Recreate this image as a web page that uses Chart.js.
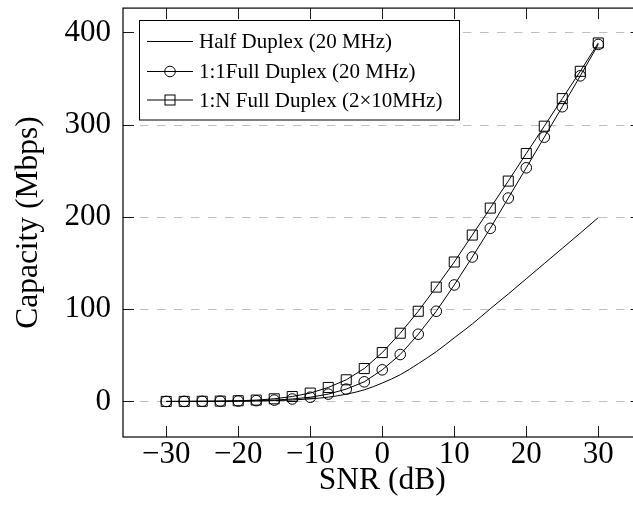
<!DOCTYPE html>
<html>
<head>
<meta charset="utf-8">
<script src="https://cdn.jsdelivr.net/npm/chart.js@4/dist/chart.umd.min.js"></script>
<style>
  html, body { margin: 0; padding: 0; background: #fff; overflow: hidden; width: 633px; height: 519px; }
  #wrap { width: 660px; height: 519px; }
</style>
</head>
<body>
<div id="wrap"><canvas id="chart" width="660" height="519"></canvas></div>
<script>
// SNR sample points (dB)
const snrDb = [-30, -27.5, -25, -22.5, -20, -17.5, -15, -12.5, -10, -7.5, -5, -2.5,
               0, 2.5, 5, 7.5, 10, 12.5, 15, 17.5, 20, 22.5, 25, 27.5, 30];

// Capacity (Mbps)
const halfDuplex = [0.03, 0.05, 0.09, 0.16, 0.29, 0.51, 0.9, 1.6, 2.8, 4.7, 7.9, 12.6,
                    20, 29, 41, 54, 69, 84, 100.5, 116.5, 133, 149.5, 166, 182.5, 199.3];
const fullDuplex11 = [0.05, 0.1, 0.2, 0.3, 0.5, 0.9, 1.5, 2.7, 4.6, 8, 13.4, 21.3,
                      34.3, 50.9, 72.9, 97.8, 126.3, 156.6, 187.7, 220.5, 253.3, 286.5, 319.5, 353, 387];
const fullDuplex1N = [0.05, 0.1, 0.2, 0.4, 0.8, 1.5, 2.9, 5.4, 9.1, 15.2, 23.5, 35.7,
                      53, 74, 97.8, 124, 151.2, 180.4, 209.6, 238.9, 268.8, 298.4, 328.3, 357.9, 388.6];

const seriesNames = ['Half Duplex (20 MHz)', '1:1Full Duplex (20 MHz)', '1:N Full Duplex (2\u00d710MHz)'];

// Axis ticks
const xTicks = [-30, -20, -10, 0, 10, 20, 30];
const yTicks = [0, 100, 200, 300, 400];

const SERIF = "'Liberation Serif', 'Times New Roman', serif";
const fmt = v => (v < 0 ? '\u2212' + Math.abs(v) : String(v));
const pts = ys => snrDb.map((x, i) => ({ x, y: ys[i] }));
const noPad = s => { s.paddingTop = 0; s.paddingBottom = 0; s.paddingLeft = 0; s.paddingRight = 0; };

// Box axis, inward ticks, dashed y grid and the legend
const framePlugin = {
  id: 'frame',
  beforeDatasetsDraw(chart) {
    const { ctx, chartArea: a, scales: { y } } = chart;
    ctx.save();
    ctx.strokeStyle = '#bfbfbf';
    ctx.lineWidth = 1;
    ctx.setLineDash([8.5, 8.5]);
    yTicks.forEach(v => {
      const py = Math.round(y.getPixelForValue(v)) + 0.5;
      ctx.beginPath(); ctx.moveTo(a.left, py); ctx.lineTo(a.right, py); ctx.stroke();
    });
    ctx.restore();
  },
  afterDatasetsDraw(chart) {
    const { ctx, chartArea: a, scales: { x, y } } = chart;
    ctx.save();
    ctx.strokeStyle = '#000';
    ctx.lineWidth = 0.9;
    const tl = 11;
    xTicks.forEach(v => {
      const px = Math.round(x.getPixelForValue(v)) + 0.5;
      ctx.beginPath(); ctx.moveTo(px, a.bottom); ctx.lineTo(px, a.bottom - tl); ctx.stroke();
      ctx.beginPath(); ctx.moveTo(px, a.top); ctx.lineTo(px, a.top + tl); ctx.stroke();
    });
    yTicks.forEach(v => {
      const py = Math.round(y.getPixelForValue(v)) + 0.5;
      ctx.beginPath(); ctx.moveTo(a.left, py); ctx.lineTo(a.left + tl, py); ctx.stroke();
      ctx.beginPath(); ctx.moveTo(a.right, py); ctx.lineTo(a.right - tl, py); ctx.stroke();
    });
    ctx.lineWidth = 1.2;
    ctx.strokeRect(a.left, a.top, a.right - a.left, a.bottom - a.top);

    // legend
    const bx = 139.5, by = 20.5, bw = 320, bh = 99.5;
    ctx.fillStyle = '#fff';
    ctx.fillRect(bx, by, bw, bh);
    ctx.lineWidth = 1;
    ctx.strokeRect(bx, by, bw, bh);
    const rows = [41.5, 71.5, 100];
    const styles = [null, 'circle', 'rect'];
    ctx.font = '21px ' + SERIF;
    ctx.textBaseline = 'middle';
    ctx.textAlign = 'left';
    rows.forEach((ry, i) => {
      ctx.strokeStyle = '#000';
      ctx.lineWidth = 1;
      ctx.beginPath(); ctx.moveTo(147, ry); ctx.lineTo(193, ry); ctx.stroke();
      if (styles[i] === 'circle') {
        ctx.beginPath(); ctx.arc(170, ry, 5.3, 0, Math.PI * 2); ctx.stroke();
      } else if (styles[i] === 'rect') {
        ctx.strokeRect(165, ry - 5, 10, 10);
      }
      ctx.fillStyle = '#000';
      ctx.fillText(seriesNames[i], 199, ry + 1);
    });
    ctx.restore();
  }
};

new Chart(document.getElementById('chart'), {
  type: 'scatter',
  data: {
    datasets: [
      {
        label: seriesNames[0], data: pts(halfDuplex), showLine: true,
        borderColor: '#000', borderWidth: 1, pointRadius: 0, pointHoverRadius: 0,
        cubicInterpolationMode: 'monotone', order: 3
      },
      {
        label: seriesNames[1], data: pts(fullDuplex11), showLine: true,
        borderColor: '#000', borderWidth: 1, tension: 0,
        pointStyle: 'circle', pointRadius: 5.3, pointBorderWidth: 1,
        pointBorderColor: '#000', pointBackgroundColor: 'rgba(0,0,0,0)', order: 2
      },
      {
        label: seriesNames[2], data: pts(fullDuplex1N), showLine: true,
        borderColor: '#000', borderWidth: 1, tension: 0,
        pointStyle: 'rect', pointRadius: 7.1, pointBorderWidth: 1,
        pointBorderColor: '#000', pointBackgroundColor: 'rgba(0,0,0,0)', order: 1
      }
    ]
  },
  options: {
    responsive: false,
    animation: false,
    devicePixelRatio: 1,
    layout: { padding: { left: 0, top: 7, right: 18.5, bottom: 0 } },
    plugins: { legend: { display: false }, tooltip: { enabled: false } },
    scales: {
      x: {
        type: 'linear', min: -36, max: 36,
        afterBuildTicks: s => { s.ticks = xTicks.map(v => ({ value: v })); },
        afterFit: s => { s.height = 82; noPad(s); },
        grid: { display: false, drawTicks: false },
        border: { display: false },
        ticks: { padding: 2.5, color: '#000', font: { family: SERIF, size: 31, lineHeight: 1 }, callback: fmt, maxRotation: 0 },
        title: { display: true, text: 'SNR (dB)', color: '#000', font: { family: SERIF, size: 31.5 }, padding: { top: 0, bottom: 19 } }
      },
      y: {
        type: 'linear', min: -38.5, max: 426.4,
        afterBuildTicks: s => { s.ticks = yTicks.map(v => ({ value: v })); },
        afterFit: s => { s.width = 123; noPad(s); },
        grid: { display: false, drawTicks: false },
        border: { display: false },
        ticks: { padding: 12, color: '#000', font: { family: SERIF, size: 31 }, callback: fmt },
        title: { display: true, text: 'Capacity (Mbps)', color: '#000', font: { family: SERIF, size: 31.5 }, padding: { top: 9.5, bottom: 0 } }
      }
    }
  },
  plugins: [framePlugin]
});
</script>
</body>
</html>
